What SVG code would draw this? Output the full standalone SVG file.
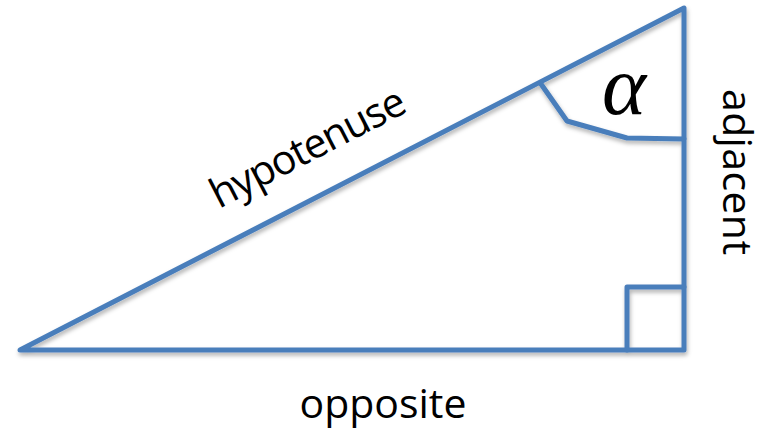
<svg xmlns="http://www.w3.org/2000/svg" width="764" height="429" viewBox="0 0 764 429">
<defs>
<style>
.ln{fill:none;stroke:#4a7ebb;stroke-width:5;stroke-linejoin:round;stroke-linecap:round}
.lbl{font-family:"Open Sans","Liberation Sans",sans-serif;font-size:41px;fill:#000}
</style>
<filter id="sh" x="-5%" y="-5%" width="110%" height="115%">
<feDropShadow dx="1" dy="3" stdDeviation="2" flood-color="#000" flood-opacity="0.3"/>
</filter>
</defs>
<g id="triangle" filter="url(#sh)">
<polygon class="ln" points="20,350 684,8 684,350"/>
<polyline class="ln" points="541,84 567,121 627,138 684,139"/>
<polyline class="ln" points="627,350 627,287 684,287"/>
</g>
<g id="labels">
<text x="624" y="114" text-anchor="middle" font-family="Liberation Serif,serif" font-style="italic" font-size="84">α</text>
<text class="lbl" transform="translate(314,160) rotate(-27.25)" text-anchor="middle" textLength="214">hypotenuse</text>
<text class="lbl" x="383" y="418" text-anchor="middle" textLength="167">opposite</text>
<text class="lbl" transform="translate(723,172) rotate(90)" text-anchor="middle" textLength="166">adjacent</text>
</g>
</svg>
